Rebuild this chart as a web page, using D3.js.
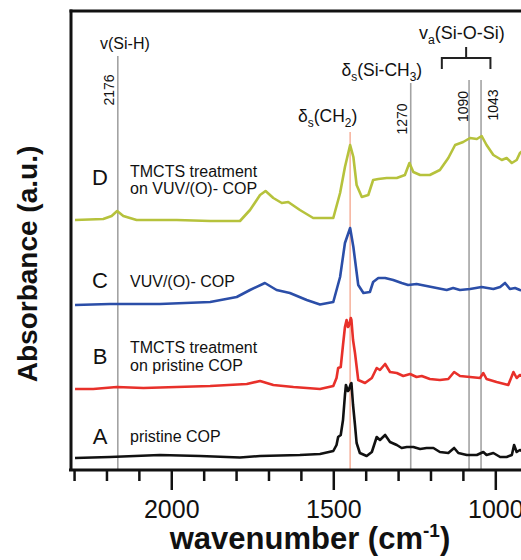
<!DOCTYPE html>
<html><head><meta charset="utf-8">
<script src="https://cdn.jsdelivr.net/npm/d3@7"></script>
<style>html,body{margin:0;padding:0;background:#fff;overflow:hidden}
text{font-family:"Liberation Sans",Arial,Helvetica,sans-serif;fill:#111}</style>
</head><body>
<svg id="c" width="521" height="560"></svg>
<script>
// ---- data ----
const wnDomain = [2311, 900];
const absDomain = [0, 4.6];
const majorTicks = [2000, 1500, 1000];
const majorTickLabels = ["2000", "1500", "1000"];
const minorTicks = [2300, 2200, 2100, 1900, 1800, 1700, 1600, 1400, 1300, 1200, 1100, 900];

const seriesKeys = ["A", "B", "C", "D"];
const seriesDesc = [["pristine COP"], ["TMCTS treatment", "on pristine COP"], ["VUV/(O)- COP"], ["TMCTS treatment", "on VUV/(O)- COP"]];
const seriesColors = ["#111111", "#e8302a", "#2b4ea8", "#b6c23c"];

const specA = [[2297,0.12],[2189,0.13],[2035,0.15],[1911,0.14],[1788,0.125],[1726,0.14],[1603,0.15],[1541,0.16],[1500,0.19],[1490,0.25],[1485,0.33],[1477,0.35],[1470,0.50],[1464,0.75],[1461,0.85],[1455,0.79],[1452,0.80],[1446,0.86],[1444,0.87],[1439,0.65],[1433,0.45],[1428,0.27],[1418,0.17],[1397,0.14],[1381,0.18],[1366,0.33],[1356,0.30],[1340,0.35],[1325,0.28],[1304,0.25],[1289,0.22],[1273,0.23],[1253,0.23],[1232,0.21],[1212,0.22],[1191,0.22],[1171,0.18],[1145,0.17],[1127,0.22],[1114,0.17],[1088,0.15],[1057,0.15],[1037,0.18],[1027,0.15],[1006,0.17],[985,0.13],[965,0.13],[949,0.15],[942,0.25],[934,0.18],[924,0.20],[912,0.18]];
const specB = [[2297,0.81],[2241,0.81],[2168,0.83],[2086,0.82],[1983,0.83],[1880,0.84],[1767,0.86],[1726,0.89],[1685,0.85],[1623,0.83],[1541,0.81],[1500,0.84],[1490,0.92],[1485,1.02],[1477,1.03],[1470,1.25],[1464,1.43],[1459,1.50],[1455,1.43],[1452,1.44],[1446,1.52],[1444,1.50],[1439,1.30],[1433,1.17],[1423,0.90],[1402,0.87],[1381,0.92],[1366,1.02],[1356,1.00],[1340,1.06],[1325,0.98],[1304,0.97],[1284,0.94],[1263,0.96],[1243,0.93],[1227,0.94],[1202,0.91],[1171,0.90],[1145,0.91],[1127,0.98],[1109,0.94],[1078,0.93],[1047,0.92],[1037,0.97],[1027,0.91],[996,0.88],[960,0.85],[944,0.98],[934,0.92],[924,0.95],[912,0.93]];
const specC = [[2297,1.65],[2189,1.66],[2035,1.66],[1880,1.68],[1798,1.73],[1757,1.80],[1711,1.87],[1675,1.80],[1634,1.77],[1582,1.70],[1541,1.655],[1500,1.68],[1479,1.93],[1464,2.27],[1448,2.42],[1438,2.23],[1423,1.85],[1407,1.77],[1387,1.78],[1377,1.88],[1361,1.92],[1340,1.92],[1315,1.90],[1289,1.87],[1269,1.85],[1243,1.86],[1212,1.84],[1181,1.82],[1150,1.80],[1130,1.82],[1109,1.80],[1078,1.81],[1042,1.83],[1006,1.81],[985,1.83],[970,1.87],[955,1.81],[939,1.82],[924,1.80],[912,1.79]];
const specD = [[2297,2.50],[2210,2.51],[2184,2.54],[2167,2.59],[2148,2.54],[2107,2.50],[1983,2.50],[1880,2.49],[1788,2.49],[1757,2.60],[1726,2.75],[1709,2.79],[1685,2.72],[1659,2.67],[1639,2.68],[1603,2.60],[1562,2.52],[1541,2.52],[1500,2.52],[1479,2.77],[1464,3.03],[1448,3.25],[1438,3.13],[1428,2.85],[1412,2.73],[1392,2.75],[1377,2.90],[1361,2.91],[1335,2.92],[1304,2.92],[1279,2.95],[1265,3.07],[1253,2.98],[1232,2.95],[1202,2.95],[1171,3.00],[1145,3.12],[1124,3.25],[1099,3.28],[1078,3.32],[1057,3.31],[1042,3.34],[1027,3.25],[1006,3.15],[980,3.10],[965,3.12],[949,3.07],[934,3.10],[924,3.17],[912,3.20]];
const spectra = [specA, specB, specC, specD];

// reference lines (drawn positions, label text)
const markerWn = [2165, 1261, 1081, 1044];
const markerLabels = ["2176", "1270", "1090", "1043"];
const markerTop = [4.14, 3.87, 3.90, 3.90];
const ch2Wn = 1448;
const ch2Top = 3.38;
const siosiBracket = [1165, 1090, 1015];

// ---- chart ----
const svg = d3.select("#c");
const x = d3.scaleLinear().domain(wnDomain).range([70.5, 527.7]);
const y = d3.scaleLinear().domain(absDomain).range([470, 10]);

svg.append("defs").append("clipPath").attr("id","plot")
  .append("rect").attr("x",71).attr("y",11).attr("width",470).attr("height",459);

// reference lines
svg.append("g").selectAll("line").data(markerWn).join("line")
  .attr("x1", d => x(d)).attr("x2", d => x(d))
  .attr("y1", (d,i) => y(markerTop[i])).attr("y2", y(0))
  .attr("stroke", "#a3a3a3").attr("stroke-width", 1.6);
svg.append("line").attr("x1", x(ch2Wn)).attr("x2", x(ch2Wn))
  .attr("y1", y(ch2Top)).attr("y2", y(0))
  .attr("stroke", "#f6b09a").attr("stroke-width", 1.5);

// spectra
const line = d3.line().x(d => x(d[0])).y(d => y(d[1]));
svg.append("g").attr("clip-path","url(#plot)").selectAll("path").data(spectra).join("path")
  .attr("d", line).attr("fill","none")
  .attr("stroke", (d,i) => seriesColors[i]).attr("stroke-width", 2.6)
  .attr("stroke-linejoin","round");

// frame
svg.append("line").attr("x1",71).attr("x2",71).attr("y1",9.5).attr("y2",471).attr("stroke","#111").attr("stroke-width",3);
svg.append("line").attr("x1",69.5).attr("x2",521).attr("y1",11).attr("y2",11).attr("stroke","#111").attr("stroke-width",3);

// x axis
const axMinor = svg.append("g").attr("transform","translate(0,470)")
  .call(d3.axisBottom(x).tickValues(minorTicks).tickSize(11).tickSizeOuter(0).tickFormat(""));
axMinor.select(".domain").attr("stroke","#111").attr("stroke-width",3).attr("d", `M${x(wnDomain[0])-1.5},0H${x(wnDomain[1])}`);
axMinor.selectAll(".tick line").attr("stroke","#111").attr("stroke-width",2.5);
const axMajor = svg.append("g").attr("transform","translate(0,470)")
  .call(d3.axisBottom(x).tickValues(majorTicks).tickSize(20).tickSizeOuter(0)
    .tickFormat((d,i) => majorTickLabels[i]));
axMajor.select(".domain").remove();
axMajor.selectAll(".tick line").attr("stroke","#111").attr("stroke-width",2.5);
axMajor.selectAll(".tick text").attr("y",48).attr("dy",0)
  .style("font-size","25px").style("font-family","'Liberation Sans',Arial,sans-serif").attr("fill","#111");

// axis titles
const xt = svg.append("text").attr("x",310).attr("y",549).attr("text-anchor","middle")
  .style("font-size","31px").style("font-weight","bold");
xt.append("tspan").text("wavenumber (cm");
xt.append("tspan").text("-1").style("font-size","19px").attr("dy",-12);
xt.append("tspan").text(")").attr("dy",12);

svg.append("text").attr("transform","translate(37,264) rotate(-90)").attr("text-anchor","middle")
  .style("font-size","28px").style("font-weight","bold").text("Absorbance (a.u.)");

// marker labels
const markerLabelPos = [[114,90],[406.5,119],[468,106.5],[498,105]];
svg.append("g").selectAll("text").data(markerLabels).join("text")
  .attr("transform", (d,i) => `translate(${markerLabelPos[i][0]},${markerLabelPos[i][1]}) rotate(-90)`)
  .attr("text-anchor","middle").style("font-size","14px").text(d => d);

// band labels
function subLabel(xp, yp, size, parts) {
  const t = svg.append("text").attr("x", xp).attr("y", yp).style("font-size", size + "px");
  let shifted = false;
  parts.forEach(p => {
    const ts = t.append("tspan").text(p[0]);
    if (p[1] === "sub") { ts.style("font-size", (size*0.68) + "px").attr("dy", size*0.28); shifted = true; }
    else if (shifted) { ts.attr("dy", -size*0.28); shifted = false; }
  });
  return t;
}
subLabel(100, 49, 16, [["v(Si-H)"]]);
subLabel(298, 122, 17.5, [["δ"],["s","sub"],["(CH"],["2","sub"],[")"]]);
subLabel(341.5, 76, 17.5, [["δ"],["s","sub"],["(Si-CH"],["3","sub"],[")"]]);
subLabel(419, 39, 18, [["v"],["a","sub"],["(Si-O-Si)"]]);

// bracket
const bx0 = x(siosiBracket[0]), bxc = x(siosiBracket[1]), bx1 = x(siosiBracket[2]);
svg.append("path").attr("d", `M${bx0},69V58H${bx1}V69M${bxc},58V47`)
  .attr("fill","none").attr("stroke","#222").attr("stroke-width",2);

// series letters and descriptions
const letterY = [444, 364, 288, 185];
const descY = [[441.5],[353],[287],[176.5]];
seriesKeys.forEach((k,i) => {
  svg.append("text").attr("x",100).attr("y",letterY[i]).attr("text-anchor","middle")
    .style("font-size","22px").text(k);
  seriesDesc[i].forEach((s,j) => {
    svg.append("text").attr("x",130).attr("y",descY[i][0] + j*17.5)
      .style("font-size","16px").text(s);
  });
});
</script>
</body></html>
